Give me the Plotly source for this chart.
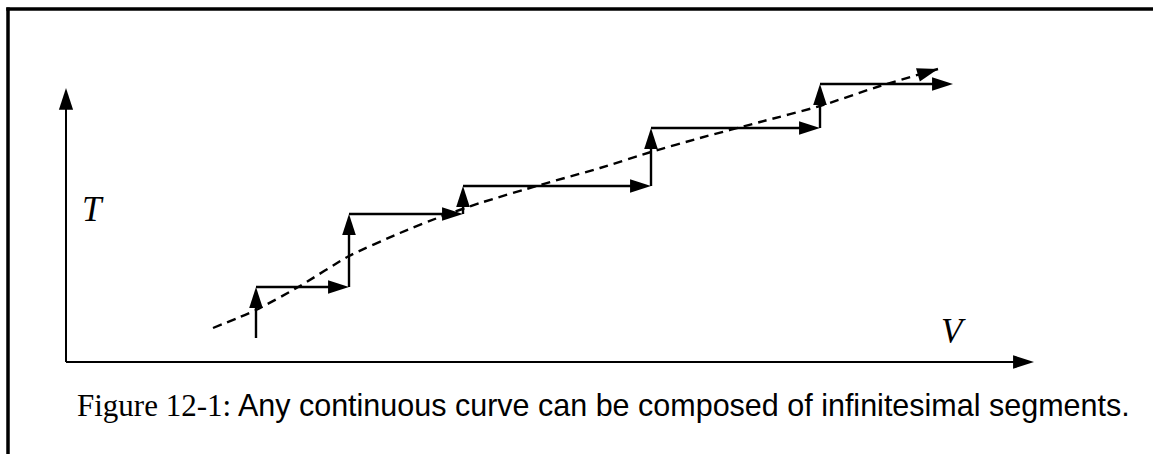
import plotly.graph_objects as go

# Staircase path (V, T) in diagram units, origin at the axes corner
stair_v = [190, 190, 283, 283, 397, 397, 585, 585, 754, 754, 887]
stair_t = [24, 75, 75, 148, 148, 176, 176, 234, 234, 278, 278]

# Smooth (dashed) curve approximated by the steps
curve_v = [147, 190, 234, 283, 334, 374, 414, 474, 534, 585, 634, 694, 754, 814, 872]
curve_t = [34, 52, 76, 106, 129, 145, 159, 177, 194, 210, 224, 240, 256, 276, 293]

# Axes extents
axis_v_end = 968
axis_t_end = 274

caption_serif = "Figure 12-1:"
caption_sans = "Any continuous curve can be composed of infinitesimal segments."

ARROW = 22
BLACK = "black"


def arrow_marker(sizes):
    return dict(symbol="arrow", angleref="previous", size=sizes, opacity=1,
                color=BLACK, line=dict(width=0))


fig = go.Figure()

# Axes as arrows
fig.add_trace(go.Scatter(
    x=[0, 0], y=[0, axis_t_end], mode="lines+markers",
    line=dict(color=BLACK, width=2),
    marker=arrow_marker([0, ARROW + 1]),
    hoverinfo="skip", showlegend=False))
fig.add_trace(go.Scatter(
    x=[0, axis_v_end], y=[0, 0], mode="lines+markers",
    line=dict(color=BLACK, width=2),
    marker=arrow_marker([0, ARROW]),
    hoverinfo="skip", showlegend=False))

# Dashed curve with arrow at the end
fig.add_trace(go.Scatter(
    x=curve_v, y=curve_t, mode="lines+markers",
    line=dict(color=BLACK, width=2.4, dash="9px,6px", shape="spline", smoothing=0.6),
    marker=arrow_marker([0] * (len(curve_v) - 1) + [ARROW]),
    hoverinfo="skip", showlegend=False))

# Staircase of arrows
fig.add_trace(go.Scatter(
    x=stair_v, y=stair_t, mode="lines+markers",
    line=dict(color=BLACK, width=2.4),
    marker=arrow_marker([0] + [ARROW] * (len(stair_v) - 1)),
    hoverinfo="skip", showlegend=False))

# Axis labels
fig.add_annotation(x=27, y=153, text="<i>T</i>", showarrow=False,
                   font=dict(family="Liberation Serif", size=35, color=BLACK))
fig.add_annotation(x=887, y=31, text="<i>V</i>", showarrow=False,
                   font=dict(family="Liberation Serif", size=35, color=BLACK))

# Caption
fig.add_annotation(
    xref="paper", yref="paper", x=75 / 1153, y=1 - 405 / 454,
    xanchor="left", yanchor="middle", showarrow=False,
    text=(f'<span style="font-family:Liberation Serif;font-size:31px">{caption_serif}</span> '
          f'{caption_sans}'),
    font=dict(family="Liberation Sans", size=30.5, color=BLACK))

# Frame lines (left and top)
fig.add_shape(type="line", xref="x", yref="y", x0=-58, x1=-58, y0=-100, y1=354.5,
              line=dict(color=BLACK, width=3.5))
fig.add_shape(type="line", xref="x", yref="y", x0=-59.7, x1=1100, y0=353, y1=353,
              line=dict(color=BLACK, width=3.5))

fig.update_layout(
    width=1153, height=454, margin=dict(l=0, r=0, t=0, b=0),
    paper_bgcolor="white", plot_bgcolor="white",
    xaxis=dict(range=[-66, 1087], visible=False, fixedrange=True),
    yaxis=dict(range=[-92, 362], visible=False, fixedrange=True),
    showlegend=False, hovermode=False)

fig.write_html(
    "out.html",
    config={"displayModeBar": False, "staticPlot": True},
    post_script="document.body.style.margin='0';document.body.style.overflow='hidden';")
